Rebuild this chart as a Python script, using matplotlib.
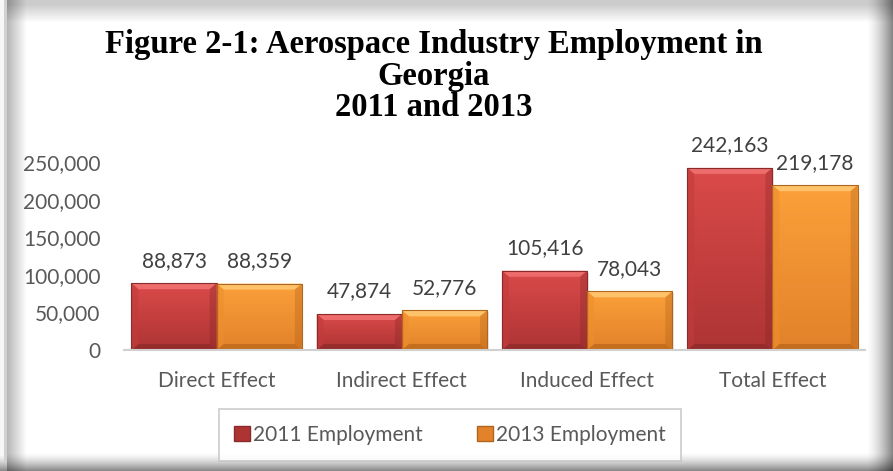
import numpy as np
import matplotlib
matplotlib.use("Agg")
import matplotlib.pyplot as plt
from matplotlib.patches import Polygon, Patch
from matplotlib.colors import to_rgb
from matplotlib.ticker import FuncFormatter

# --- data -------------------------------------------------------------
categories = ["Direct Effect", "Indirect Effect", "Induced Effect", "Total Effect"]
employment_2011 = [88873, 47874, 105416, 242163]
employment_2013 = [88359, 52776, 78043, 219178]
series_labels = ["2011 Employment", "2013 Employment"]
y_ticks = [0, 50000, 100000, 150000, 200000, 250000]
title_lines = ["Figure 2-1: Aerospace Industry Employment in", "Georgia", "2011 and 2013"]

# --- style --------------------------------------------------------------
W, H, DPI = 893, 471, 100
TEXT_GRAY = "#595959"
SANS = ["Lato", "DejaVu Sans"]
palettes = [
    dict(top="#DB4a4a", bottom="#AE3434", light="#F07070", dark="#7E2424", side="#C23C3C", edge="#8A2A2A"),
    dict(top="#FBA03A", bottom="#E2822A", light="#FFC870", dark="#A85A14", side="#EE8E2E", edge="#B0661E"),
]

fig = plt.figure(figsize=(W / DPI, H / DPI), dpi=DPI)

# --- framed background with soft shadow --------------------------------
xs = np.arange(W)[None, :]
ys = np.arange(H)[:, None]
shade_map = np.ones((H, W))
# left inner shadow
lf = np.clip((26 - xs) / 19.0, 0, 1) * (xs >= 7)
shade_map *= 1 - 0.28 * lf
# top inner shadow
tf = np.clip((22 - ys) / 18.0, 0, 1) * (xs >= 7)
shade_map *= 1 - 0.20 * tf
# right and bottom outer shadow
rf = np.clip((xs - 866) / 27.0, 0, 1) ** 1.5
bf = np.clip((ys - 452) / 19.0, 0, 1) ** 1.5
shade_map *= (1 - 0.50 * rf) * (1 - 0.50 * bf)
# thin light border along the left edge
shade_map[:, 4:7] = np.minimum(shade_map[:, 4:7], 0.82)
shade_map[:, :4] = np.minimum(shade_map[:, :4], 0.97)
bg = np.repeat(shade_map[:, :, None], 3, axis=2)
bgax = fig.add_axes([0, 0, 1, 1])
bgax.imshow(bg, extent=[0, W, H, 0], aspect="auto", interpolation="nearest", vmin=0, vmax=1)
bgax.set_xlim(0, W)
bgax.set_ylim(H, 0)
bgax.axis("off")

# --- title ---------------------------------------------------------------
title_y = [45, 77, 108]
for line, ty in zip(title_lines, title_y):
    fig.text(434 / W, 1 - ty / H, line, ha="center", va="center",
             fontsize=23.5, fontweight="bold", family=["Liberation Serif", "DejaVu Serif"],
             color="black")

# --- chart axes -------------------------------------------------------------
ax = fig.add_axes([124 / W, (H - 350) / H, 741 / W, 188 / H])
ax.set_facecolor("none")
ax.set_xlim(-0.5, len(categories) - 0.5)
ax.set_ylim(0, 250000)

x = np.arange(len(categories))
bw = 0.46
bars_a = ax.bar(x - bw / 2, employment_2011, width=bw, color=palettes[0]["side"], zorder=2)
bars_b = ax.bar(x + bw / 2, employment_2013, width=bw, color=palettes[1]["side"], zorder=2)

fig.canvas.draw()
# pixel -> data scale factors
px_x = (ax.get_xlim()[1] - ax.get_xlim()[0]) / 741.0
px_y = (ax.get_ylim()[1] - ax.get_ylim()[0]) / 188.0


def shade(bars, pal):
    grad = np.linspace(0, 1, 64)[:, None, None]
    c_top = np.array(to_rgb(pal["top"]))
    c_bot = np.array(to_rgb(pal["bottom"]))
    img = c_top * (1 - grad) + c_bot * grad
    for b in bars:
        x0, y0 = b.get_x(), b.get_y()
        x1, y1 = x0 + b.get_width(), y0 + b.get_height()
        # soft drop shadow
        ax.add_patch(plt.Rectangle((x0 + 1.5 * px_x, y0 - 2 * px_y), x1 - x0, y1 - y0,
                                   color="black", alpha=0.10, lw=0, zorder=1.5))
        im = ax.imshow(img, extent=[x0, x1, y0, y1], aspect="auto", zorder=2.1,
                       interpolation="bilinear")
        im.set_clip_path(b)
        bx = 7 * px_x
        by = 6 * px_y
        # bevel faces
        faces = [
            ([(x0, y1), (x1, y1), (x1 - bx, y1 - by), (x0 + bx, y1 - by)], pal["light"], 0.9),
            ([(x0, y0), (x1, y0), (x1 - bx, y0 + by), (x0 + bx, y0 + by)], pal["dark"], 0.5),
            ([(x0, y0), (x0, y1), (x0 + bx, y1 - by), (x0 + bx, y0 + by)], pal["side"], 0.6),
            ([(x1, y0), (x1, y1), (x1 - bx, y1 - by), (x1 - bx, y0 + by)], pal["dark"], 0.3),
        ]
        for pts, col, a in faces:
            ax.add_patch(Polygon(pts, closed=True, facecolor=col, edgecolor="none",
                                 alpha=a, zorder=2.2))
        ax.add_patch(plt.Rectangle((x0, y0), x1 - x0, y1 - y0, fill=False,
                                   edgecolor=pal["edge"], lw=0.8, zorder=2.3))


shade(bars_a, palettes[0])
shade(bars_b, palettes[1])

# value labels
for bars in (bars_a, bars_b):
    ax.bar_label(bars, labels=[f"{v:,.0f}" for v in bars.datavalues], padding=9,
                 fontsize=15, color="#404040", family=SANS, zorder=3)

# axes styling
for s in ("top", "right", "left"):
    ax.spines[s].set_visible(False)
ax.spines["bottom"].set_color("#D0D0D0")
ax.spines["bottom"].set_linewidth(1.5)
ax.set_yticks(y_ticks)
ax.yaxis.set_major_formatter(FuncFormatter(lambda v, p: f"{v:,.0f}"))
ax.set_xticks(x)
ax.set_xticklabels(categories)
ax.tick_params(axis="both", length=0, labelsize=15, labelcolor=TEXT_GRAY)
ax.tick_params(axis="y", pad=17)
ax.tick_params(axis="x", pad=15)
for lbl in ax.get_xticklabels() + ax.get_yticklabels():
    lbl.set_family(SANS)

# legend
handles = [Patch(facecolor=palettes[i]["bottom"], edgecolor=palettes[i]["edge"], label=series_labels[i])
           for i in range(2)]
leg = fig.legend(handles=handles, loc="center", bbox_to_anchor=(450 / W, 1 - 435 / H),
                 ncol=2, frameon=True, fancybox=False,
                 prop=dict(family=SANS, size=15), handlelength=0.75, handleheight=0.75,
                 handletextpad=0.15, columnspacing=2.6, borderpad=0.75, borderaxespad=0)
leg.get_frame().set_edgecolor("#BFBFBF")
leg.get_frame().set_linewidth(1.2)
for t in leg.get_texts():
    t.set_color(TEXT_GRAY)

fig.savefig("out.png", dpi=DPI)
